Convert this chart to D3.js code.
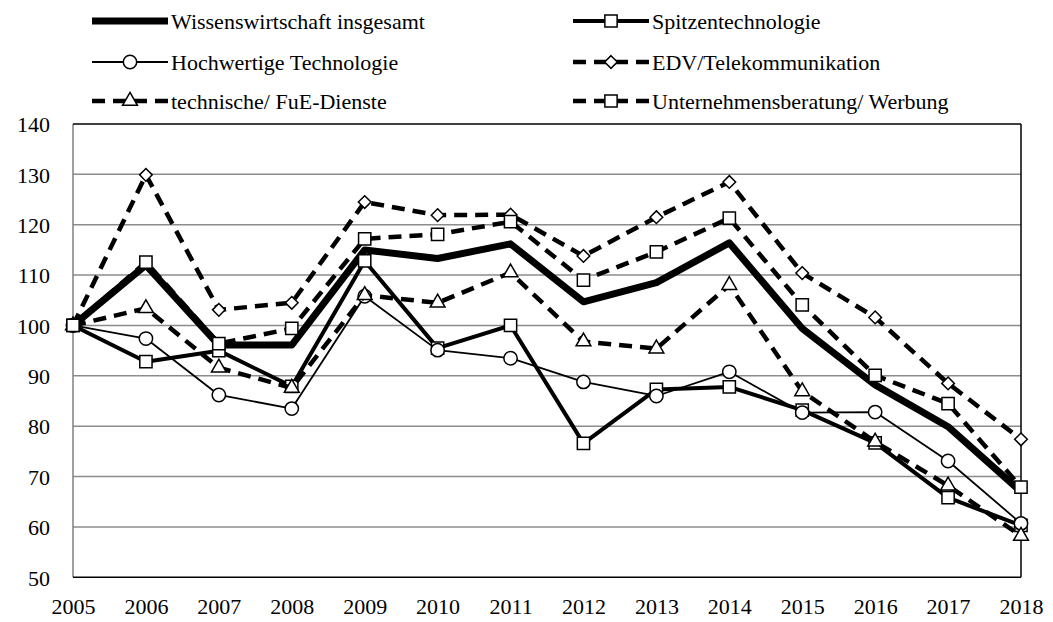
<!DOCTYPE html>
<html><head><meta charset="utf-8">
<script src="https://cdn.jsdelivr.net/npm/d3@7"></script>
<style>body{margin:0;background:#fff}svg{display:block}</style>
</head><body><svg id="c" width="1053" height="622" font-family="'Liberation Serif', 'Times New Roman', 'DejaVu Serif', serif"></svg>
<script>
const years = [2005,2006,2007,2008,2009,2010,2011,2012,2013,2014,2015,2016,2017,2018];
const yTicks = [50,60,70,80,90,100,110,120,130,140];
const wissen = [100,112.0,96.1,96.1,115.0,113.3,116.2,104.7,108.5,116.4,99.4,88.2,79.9,67.0];
const spitzen = [100,92.8,95.0,87.9,112.8,95.5,100.0,76.6,87.3,87.8,83.2,76.7,65.8,60.3];
const hochw = [100,97.4,86.2,83.5,105.8,95.1,93.5,88.8,86.0,90.8,82.7,82.8,73.1,60.7];
const edv = [100,129.9,103.1,104.5,124.5,121.9,122.0,113.8,121.5,128.5,110.4,101.6,88.5,77.4];
const fue = [100,103.4,91.6,87.6,106.0,104.5,110.5,96.8,95.4,108.0,86.9,76.9,68.2,58.2];
const unb = [100,112.6,96.4,99.4,117.2,118.1,120.6,109.0,114.6,121.3,104.1,90.1,84.5,67.9];
const names = ["Wissenswirtschaft insgesamt","Spitzentechnologie","Hochwertige Technologie","EDV/Telekommunikation","technische/ FuE-Dienste","Unternehmensberatung/ Werbung"];

const FONT = "'Liberation Serif', 'Times New Roman', 'DejaVu Serif', serif";
const series = [
  {name:names[0], values:wissen, w:7, dash:null, marker:null},
  {name:names[1], values:spitzen, w:4, dash:null, marker:"square"},
  {name:names[2], values:hochw, w:1.8, dash:null, marker:"circle"},
  {name:names[3], values:edv, w:4.5, dash:"13,8", marker:"diamond"},
  {name:names[4], values:fue, w:4.5, dash:"13,8", marker:"triangle"},
  {name:names[5], values:unb, w:4.5, dash:"13,8", marker:"square"}
];

const svg = d3.select("#c");
const L=73, R=1021, T=124, B=577.3;
const x = d3.scalePoint().domain(years).range([L,R]);
const y = d3.scaleLinear().domain([50,140]).range([B,T]);

svg.append("g").selectAll("line").data(yTicks.slice(1,-1)).join("line")
  .attr("x1",L).attr("x2",R).attr("y1",d=>y(d)).attr("y2",d=>y(d))
  .attr("stroke","#8c8c8c").attr("stroke-width",1.5);
svg.append("line").attr("x1",L).attr("x2",L).attr("y1",T).attr("y2",B).attr("stroke","#808080").attr("stroke-width",1.5);
svg.append("line").attr("x1",L).attr("x2",R).attr("y1",T).attr("y2",T).attr("stroke","#000").attr("stroke-width",1.5);
svg.append("line").attr("x1",R).attr("x2",R).attr("y1",T).attr("y2",B).attr("stroke","#000").attr("stroke-width",1.5);

const yAxis = d3.axisLeft(y).tickValues(yTicks).tickSize(0).tickPadding(23);
const gy = svg.append("g").attr("transform",`translate(${L},0)`).call(yAxis);
gy.attr("font-family",FONT).attr("font-size",22);
gy.select(".domain").remove();
gy.selectAll("text").attr("dy","0.35em").attr("fill","#000");
const xAxis = d3.axisBottom(x).tickSize(0).tickPadding(21).tickFormat(d=>String(d));
const gx = svg.append("g").attr("transform",`translate(0,${B})`).call(xAxis);
gx.attr("font-family",FONT).attr("font-size",22);
gx.select(".domain").attr("stroke","#000").attr("stroke-width",1.5).attr("d",`M${L},0H${R}`);
gx.selectAll("text").attr("dy","0.71em").attr("fill","#000");

const diamond = {draw(ctx,size){const r=Math.sqrt(size/2);ctx.moveTo(0,-r);ctx.lineTo(r,0);ctx.lineTo(0,r);ctx.lineTo(-r,0);ctx.closePath();}};
const sym = {
  square: d3.symbol().type(d3.symbolSquare).size(150),
  circle: d3.symbol().type(d3.symbolCircle).size(140),
  diamond: d3.symbol().type(diamond).size(80),
  triangle: d3.symbol().type(d3.symbolTriangle).size(95)
};

const line = d3.line().x((d,i)=>x(years[i])).y(d=>y(d));
series.forEach(s=>{
  const g = svg.append("g");
  g.append("path").attr("d",line(s.values)).attr("fill","none").attr("stroke","#000")
    .attr("stroke-width",s.w).attr("stroke-dasharray",s.dash).attr("stroke-linejoin","round");
  if(s.marker){
    g.selectAll("path.m").data(s.values).join("path").attr("class","m")
      .attr("d",sym[s.marker]()).attr("transform",(d,i)=>`translate(${x(years[i])},${y(d)})`)
      .attr("fill","#fff").attr("stroke","#000").attr("stroke-width",1.5);
  }
});

const legPos = [[92,21],[573,21],[92,62],[573,62],[92,101],[573,101]];
series.forEach((s,i)=>{
  const [lx,ly] = legPos[i];
  const g = svg.append("g").attr("transform",`translate(${lx},${ly})`);
  g.append("line").attr("x1",0).attr("x2",76).attr("y1",0).attr("y2",0).attr("stroke","#000")
    .attr("stroke-width",s.w).attr("stroke-dasharray",s.dash);
  if(s.marker) g.append("path").attr("d",sym[s.marker]()).attr("transform","translate(38,0)")
    .attr("fill","#fff").attr("stroke","#000").attr("stroke-width",1.5);
  g.append("text").attr("x",79).attr("y",0).attr("dy","0.35em")
    .attr("font-family",FONT).attr("font-size",22).attr("fill","#000").text(s.name);
});
</script></body></html>
